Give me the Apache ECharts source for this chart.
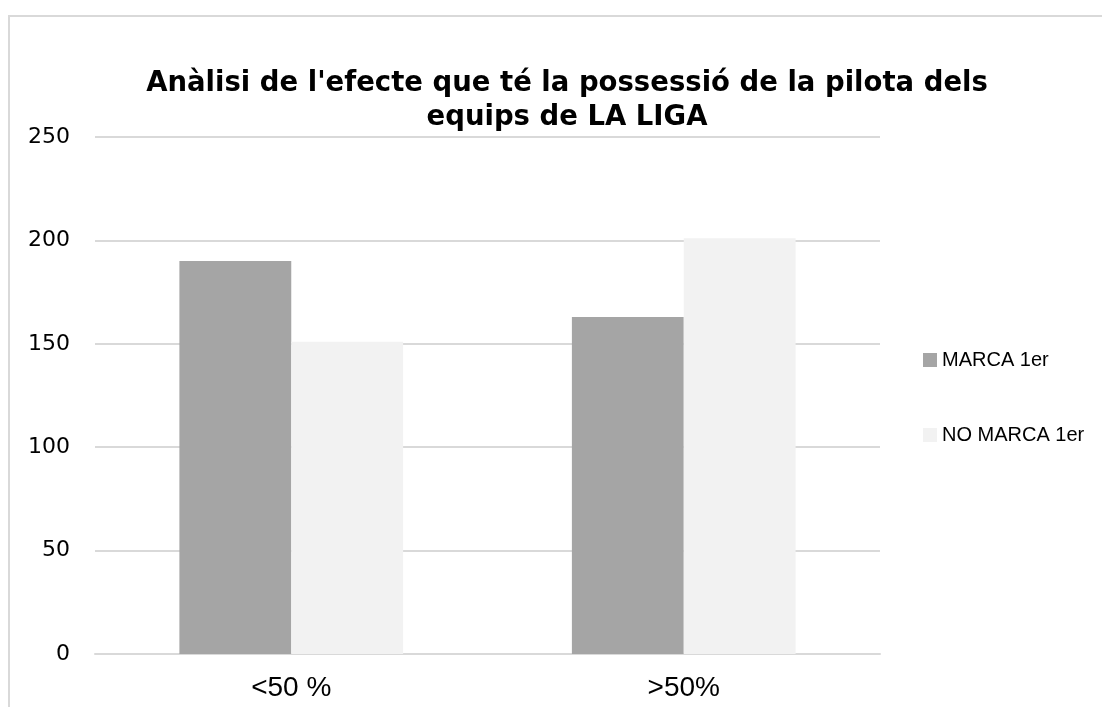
<!DOCTYPE html>
<html>
<head>
<meta charset="utf-8">
<script src="https://cdn.jsdelivr.net/npm/echarts@6/dist/echarts.min.js"></script>
<style>
    html, body { margin: 0; padding: 0; background: #fff; }
    .frame { position: absolute; left: 8px; top: 15px; width: 1200px; height: 800px; border-left: 2px solid #d9d9d9; border-top: 2px solid #d9d9d9; }
    .com-chart { position: absolute; left: 0; top: 0; width: 1102px; height: 707px; }
</style>
</head>
<body>
<div class="frame"></div>
<div class="com-chart" id="chart"></div>
<script>
const categories = ['<50 %', '>50%']
const seriesNames = ['MARCA 1er', 'NO MARCA 1er']
const marcaValues = [190, 163]
const noMarcaValues = [151, 201]
const yTicks = [0, 50, 100, 150, 200, 250]

const chartInstance = echarts.init(document.getElementById('chart'), null, { renderer: 'canvas' })
const option = {
    animation: false,
    title: {
        text: "Anàlisi de l'efecte que té la possessió de la pilota dels\nequips de LA LIGA",
        left: 562,
        top: 62,
        textAlign: 'center',
        textStyle: {
            fontFamily: 'DejaVu Sans',
            fontWeight: 'bold',
            fontSize: 27.5,
            lineHeight: 34,
            color: '#000'
        }
    },
    legend: {
        orient: 'vertical',
        left: 918,
        top: 345,
        itemGap: 55,
        itemWidth: 14,
        itemHeight: 14,
        itemStyle: { borderWidth: 0 },
        icon: 'rect',
        data: seriesNames,
        textStyle: {
            fontFamily: 'Liberation Sans',
            fontSize: 20,
            color: '#000'
        }
    },
    grid: {
        left: 95,
        right: 222,
        top: 137,
        bottom: 53,
        containLabel: false
    },
    xAxis: {
        type: 'category',
        data: categories,
        axisTick: { show: false },
        axisLine: { lineStyle: { color: '#d9d9d9', width: 2 } },
        axisLabel: {
            margin: 20,
            fontFamily: 'Liberation Sans',
            fontSize: 28,
            color: '#000'
        }
    },
    yAxis: {
        type: 'value',
        min: yTicks[0],
        max: yTicks[yTicks.length - 1],
        interval: 50,
        axisLine: { show: false },
        axisTick: { show: false },
        splitLine: { lineStyle: { color: '#d9d9d9', width: 2 } },
        axisLabel: {
            margin: 25,
            fontFamily: 'DejaVu Sans',
            fontSize: 22,
            color: '#000'
        }
    },
    series: [
        {
            name: seriesNames[0],
            type: 'bar',
            data: marcaValues,
            barGap: '0%',
            barCategoryGap: '43%',
            itemStyle: { color: '#a5a5a5' }
        },
        {
            name: seriesNames[1],
            type: 'bar',
            data: noMarcaValues,
            barGap: '0%',
            barCategoryGap: '43%',
            itemStyle: { color: '#f2f2f2' }
        }
    ]
}
chartInstance.setOption(option)
</script>
</body>
</html>
